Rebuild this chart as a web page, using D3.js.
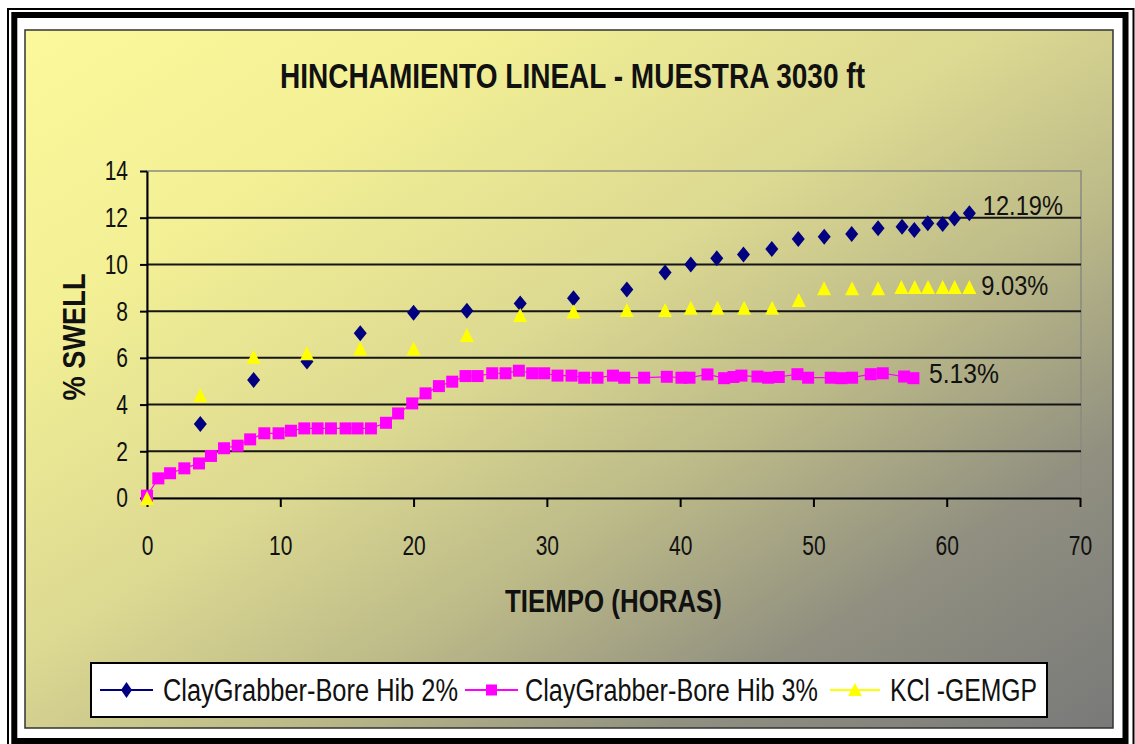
<!DOCTYPE html>
<html>
<head>
<meta charset="utf-8">
<script src="https://cdn.jsdelivr.net/npm/d3@7"></script>
<style>
  body { margin: 0; background: #fff; }
  svg { display: block; font-family: "Liberation Sans", Arial, sans-serif; }
</style>
</head>
<body>
<div id="chart"></div>
<script>
// ClayGrabber-Bore Hib 2%
const hours2 = [4, 8, 12, 16, 20, 24, 28, 32, 36, 38.87, 40.8, 42.75, 44.75, 46.88, 48.86, 50.81,
  52.87, 54.85, 56.65, 57.57, 58.58, 59.7, 60.58, 61.7];
const swell2 = [3.17, 5.05, 5.84, 7.05, 7.93, 8.02, 8.33, 8.55, 8.93, 9.65, 10.0, 10.26, 10.43, 10.66,
  11.09, 11.19, 11.3, 11.55, 11.61, 11.47, 11.76, 11.73, 11.97, 12.19];

// ClayGrabber-Bore Hib 3%
const hours3 = [0, 0.85, 1.73, 2.8, 3.9, 4.8, 5.78, 6.8, 7.74, 8.8, 9.87, 10.8, 11.8, 12.8, 13.8,
  14.9, 15.8, 16.8, 17.93, 18.84, 19.9, 20.9, 21.9, 22.9, 23.9, 24.8, 25.9, 26.9, 27.9, 28.9, 29.8,
  30.8, 31.85, 32.8, 33.8, 34.96, 35.8, 37.3, 39.0, 40.1, 40.7, 42.05, 43.3, 44.0, 44.6, 45.8, 46.6,
  47.4, 48.8, 49.6, 51.3, 52.1, 52.9, 54.3, 55.2, 56.8, 57.5];
const swell3 = [0.1, 0.84, 1.06, 1.27, 1.48, 1.8, 2.13, 2.24, 2.51, 2.77, 2.77, 2.88, 2.98, 2.98, 2.98,
  2.98, 2.98, 2.98, 3.22, 3.62, 4.05, 4.48, 4.79, 4.98, 5.22, 5.22, 5.34, 5.34, 5.45, 5.34, 5.34,
  5.24, 5.24, 5.15, 5.15, 5.24, 5.15, 5.15, 5.19, 5.15, 5.15, 5.29, 5.13, 5.18, 5.24, 5.2, 5.15,
  5.18, 5.3, 5.15, 5.15, 5.13, 5.15, 5.3, 5.34, 5.2, 5.13];

// KCl -GEMGP
const hoursKcl = [0, 4, 8, 12, 16, 20, 24, 28, 32, 36, 38.87, 40.8, 42.8, 44.8, 46.9, 48.9, 50.8,
  52.9, 54.85, 56.6, 57.6, 58.6, 59.7, 60.6, 61.7];
const swellKcl = [0, 4.4, 6.05, 6.2, 6.4, 6.4, 6.98, 7.83, 7.98, 8.05, 8.05, 8.15, 8.15, 8.15, 8.15,
  8.48, 8.98, 8.98, 8.98, 9.03, 9.03, 9.03, 9.03, 9.03, 9.03];

const seriesNames = ["ClayGrabber-Bore Hib 2%", "ClayGrabber-Bore Hib 3%", "KCl -GEMGP"];
const endLabels = ["12.19%", "5.13%", "9.03%"];
const xTicks = [0, 10, 20, 30, 40, 50, 60, 70];
const yTicks = [0, 2, 4, 6, 8, 10, 12, 14];

const width = 1135;
const height = 744;
const plot = { left: 147, right: 1080, top: 171, bottom: 498 };
const squeezeK = 0.75;

const svg = d3.select("#chart")
  .append("svg")
  .attr("width", width)
  .attr("height", height);

// background gradient, yellow to grey
const grad = svg.append("defs").append("linearGradient")
  .attr("id", "bg")
  .attr("x1", 0).attr("y1", 0).attr("x2", 1).attr("y2", 1);
[["0%", "#fbf99b"], ["22%", "#f2ef95"], ["45%", "#dcd992"], ["62%", "#bcba88"],
 ["80%", "#908f80"], ["100%", "#797979"]].forEach(s => {
  grad.append("stop").attr("offset", s[0]).attr("stop-color", s[1]);
});

svg.append("rect").attr("width", width).attr("height", height).attr("fill", "#fff");

// double frame
svg.append("rect")
  .attr("x", 8).attr("y", 9).attr("width", 1125.5).attr("height", 740)
  .attr("fill", "none").attr("stroke", "#000").attr("stroke-width", 2);
svg.append("rect")
  .attr("x", 14.3).attr("y", 15).attr("width", 1111.2).attr("height", 726)
  .attr("fill", "none").attr("stroke", "#000").attr("stroke-width", 6);

// chart area
svg.append("rect")
  .attr("x", 25).attr("y", 30).attr("width", 1088).attr("height", 698)
  .attr("fill", "url(#bg)").attr("stroke", "#333").attr("stroke-width", 1.5);

function squeeze(sel, k) {
  sel.each(function() {
    const w = this.getComputedTextLength();
    d3.select(this).attr("textLength", w * k).attr("lengthAdjust", "spacingAndGlyphs");
  });
}

const x = d3.scaleLinear().domain([0, 70]).range([plot.left, plot.right]);
const y = d3.scaleLinear().domain([0, 14]).range([plot.bottom, plot.top]);

// plot area border
svg.append("rect")
  .attr("x", plot.left).attr("y", plot.top)
  .attr("width", plot.right + 1 - plot.left).attr("height", plot.bottom - plot.top)
  .attr("fill", "none").attr("stroke", "#8a8a80").attr("stroke-width", 1.5);

// gridlines
svg.append("g")
  .selectAll("line")
  .data(yTicks.filter(d => d > 0 && d < 14))
  .join("line")
  .attr("x1", plot.left).attr("x2", plot.right + 1)
  .attr("y1", d => y(d)).attr("y2", d => y(d))
  .attr("stroke", "#151515").attr("stroke-width", 2);

const xAxis = d3.axisBottom(x).tickValues(xTicks).tickSize(9).tickSizeOuter(0).tickPadding(28);
const yAxis = d3.axisLeft(y).tickValues(yTicks).tickSize(7).tickSizeOuter(0).tickPadding(12);

const gx = svg.append("g")
  .attr("transform", `translate(0, ${plot.bottom})`)
  .call(xAxis);
const gy = svg.append("g")
  .attr("transform", `translate(${plot.left}, 0)`)
  .call(yAxis);

[gx, gy].forEach(g => {
  g.select(".domain").attr("stroke", "#000").attr("stroke-width", 2);
  g.selectAll(".tick line").attr("stroke", "#000").attr("stroke-width", 2);
  g.selectAll(".tick text")
    .attr("fill", "#111")
    .style("font-size", "28px")
    .style("font-family", "'Liberation Sans', Arial, sans-serif");
  squeeze(g.selectAll(".tick text"), squeezeK);
});

// series
const diamond = "M0,-8L6.5,0L0,8L-6.5,0Z";
const triangle = "M0,-7L7,7L-7,7Z";

svg.append("g")
  .selectAll("path")
  .data(hours2.map((h, i) => [h, swell2[i]]))
  .join("path")
  .attr("d", diamond)
  .attr("transform", d => `translate(${x(d[0])}, ${y(d[1])})`)
  .attr("fill", "#000080");

const pts3 = hours3.map((h, i) => [h, swell3[i]]);
svg.append("path")
  .datum(pts3)
  .attr("fill", "none")
  .attr("stroke", "#ff00ff")
  .attr("stroke-width", 1.2)
  .attr("d", d3.line().x(d => x(d[0])).y(d => y(d[1])));
svg.append("g")
  .selectAll("rect")
  .data(pts3)
  .join("rect")
  .attr("x", d => x(d[0]) - 6).attr("y", d => y(d[1]) - 6)
  .attr("width", 12).attr("height", 12)
  .attr("fill", "#ff00ff");

svg.append("g")
  .selectAll("path")
  .data(hoursKcl.map((h, i) => [h, swellKcl[i]]))
  .join("path")
  .attr("d", triangle)
  .attr("transform", d => `translate(${x(d[0])}, ${y(d[1])})`)
  .attr("fill", "#ffff00");

// end labels
const lastPts = [
  [hours2[hours2.length - 1], swell2[swell2.length - 1], 13.5, 2, 80],
  [hours3[hours3.length - 1], swell3[swell3.length - 1], 15.6, 5, 70],
  [hoursKcl[hoursKcl.length - 1], swellKcl[swellKcl.length - 1], 12, 8, 67]
];
svg.append("g")
  .selectAll("text")
  .data(lastPts)
  .join("text")
  .attr("x", d => x(d[0]) + d[2])
  .attr("y", d => y(d[1]) + d[3])
  .attr("textLength", d => d[4])
  .attr("lengthAdjust", "spacingAndGlyphs")
  .attr("fill", "#111")
  .style("font-size", "28px")
  .text((d, i) => endLabels[i]);

// titles
svg.append("text")
  .attr("x", 572.5).attr("y", 88)
  .attr("text-anchor", "middle")
  .attr("textLength", 585).attr("lengthAdjust", "spacingAndGlyphs")
  .style("font-size", "35px").style("font-weight", "bold")
  .attr("fill", "#111")
  .text("HINCHAMIENTO LINEAL - MUESTRA 3030 ft");

svg.append("text")
  .attr("x", 613.5).attr("y", 612)
  .attr("text-anchor", "middle")
  .attr("textLength", 217).attr("lengthAdjust", "spacingAndGlyphs")
  .style("font-size", "31px").style("font-weight", "bold")
  .attr("fill", "#111")
  .text("TIEMPO (HORAS)");

svg.append("text")
  .attr("transform", "translate(85, 337) rotate(-90)")
  .attr("text-anchor", "middle")
  .attr("textLength", 127).attr("lengthAdjust", "spacingAndGlyphs")
  .style("font-size", "32px").style("font-weight", "bold")
  .attr("fill", "#111")
  .text("% SWELL");

// legend
const legend = svg.append("g");
legend.append("rect")
  .attr("x", 91).attr("y", 663).attr("width", 956).attr("height", 54)
  .attr("fill", "#fff").attr("stroke", "#000").attr("stroke-width", 2);

const legendItems = [
  { x0: 100, x1: 153, tx: 163, tl: 295, color: "#000080", shape: "diamond" },
  { x0: 465, x1: 518, tx: 525, tl: 293, color: "#ff00ff", shape: "square" },
  { x0: 830, x1: 880, tx: 890, tl: 147, color: "#ffff00", shape: "triangle" }
];
const ly = 690;
legendItems.forEach((it, i) => {
  legend.append("line")
    .attr("x1", it.x0).attr("x2", it.x1).attr("y1", ly).attr("y2", ly)
    .attr("stroke", it.color).attr("stroke-width", 2);
  const cx = (it.x0 + it.x1) / 2;
  if (it.shape === "diamond") {
    legend.append("path").attr("d", "M0,-8L5.5,0L0,8L-5.5,0Z")
      .attr("transform", `translate(${cx}, ${ly})`).attr("fill", it.color);
  } else if (it.shape === "square") {
    legend.append("rect").attr("x", cx - 5.5).attr("y", ly - 5.5)
      .attr("width", 11).attr("height", 11).attr("fill", it.color);
  } else {
    legend.append("path").attr("d", "M0,-7L7,6L-7,6Z")
      .attr("transform", `translate(${cx}, ${ly})`).attr("fill", it.color);
  }
  legend.append("text")
    .attr("x", it.tx).attr("y", 701)
    .attr("textLength", it.tl).attr("lengthAdjust", "spacingAndGlyphs")
    .style("font-size", "31px")
    .attr("fill", "#111")
    .text(seriesNames[i]);
});
</script>
</body>
</html>
